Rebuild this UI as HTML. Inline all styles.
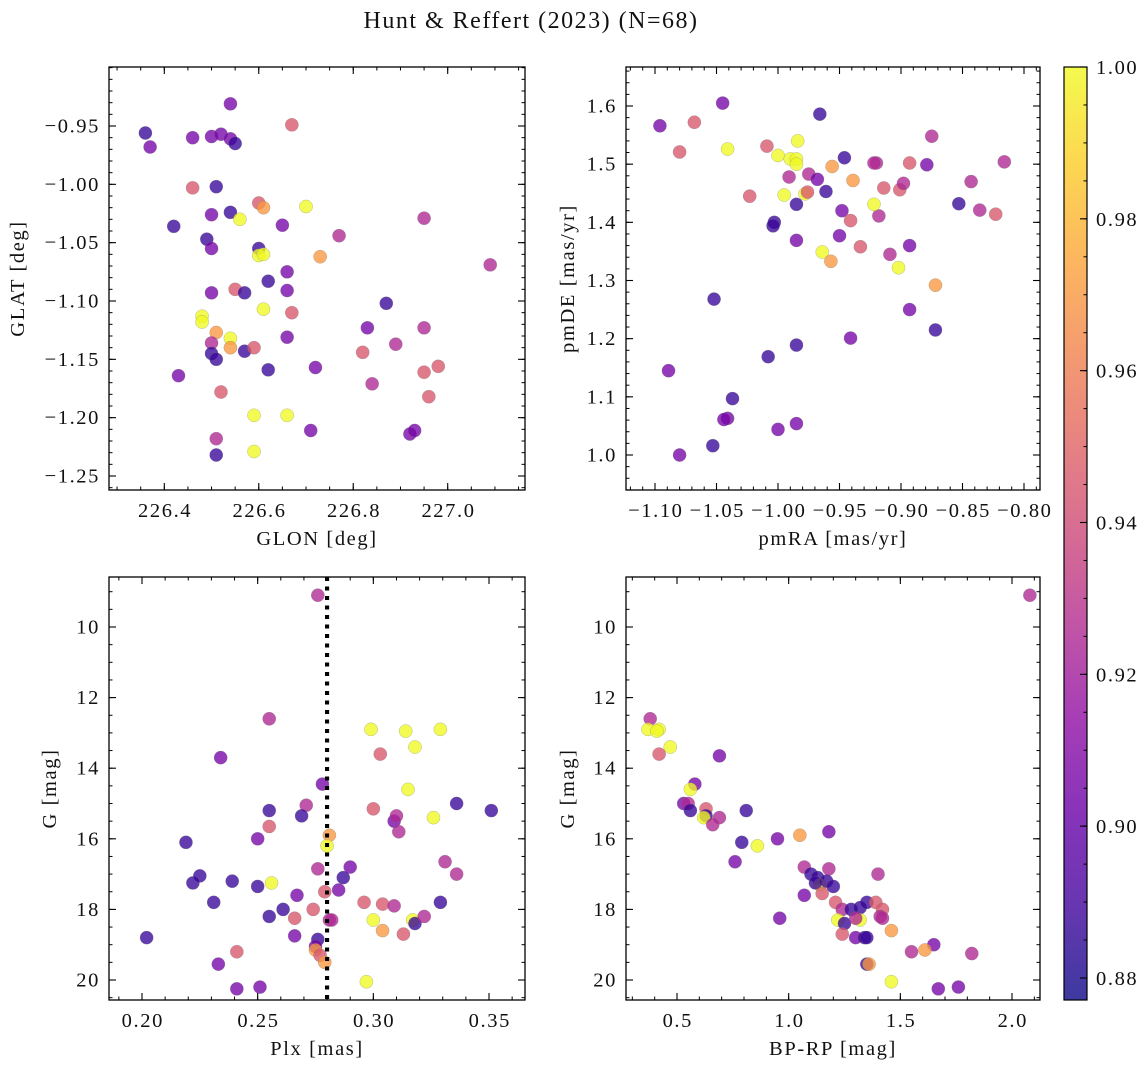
<!DOCTYPE html>
<html><head><meta charset="utf-8">
<style>
html,body{margin:0;padding:0;background:#fff;}
svg{display:block;font-family:"Liberation Serif","DejaVu Serif",serif;}
</style></head>
<body>
<svg id="fig" width="1148" height="1067" viewBox="0 0 1148 1067" xmlns="http://www.w3.org/2000/svg">
<defs>
<linearGradient id="plasma" x1="0" y1="1" x2="0" y2="0">
<stop offset="0" stop-color="#0d0887"/><stop offset="0.1" stop-color="#41049d"/><stop offset="0.2" stop-color="#6a00a8"/><stop offset="0.3" stop-color="#8f0da4"/><stop offset="0.4" stop-color="#b12a90"/><stop offset="0.5" stop-color="#cc4778"/><stop offset="0.6" stop-color="#e16462"/><stop offset="0.7" stop-color="#f2844b"/><stop offset="0.8" stop-color="#fca636"/><stop offset="0.9" stop-color="#fcce25"/><stop offset="1" stop-color="#f0f921"/>
</linearGradient>
</defs>
<text x="531" y="28" font-size="24" letter-spacing="1.5" text-anchor="middle" fill="#111">Hunt &amp; Reffert (2023) (N=68)</text>
</svg>
<script>
// probability codes: b,v,p,s,o,y
const probCodes = {b:0.887, v:0.905, p:0.925, s:0.945, o:0.97, y:1.0};
// Panel 1: GLON / GLAT
const tlGlon = [226.36,226.37,226.46,226.50,226.52,226.54,226.55,226.54,226.67,226.46,226.51,226.42,226.49,226.50,226.50,226.54,226.56,226.60,226.61,226.70,226.65,226.60,226.60,226.61,226.73,226.77,226.95,227.09,226.66,226.62,226.50,226.55,226.57,226.66,226.61,226.67,226.48,226.48,226.51,226.54,226.54,226.50,226.50,226.51,226.57,226.59,226.66,226.62,226.72,226.87,226.83,226.82,226.89,226.95,226.84,226.95,226.98,226.96,226.43,226.52,226.59,226.66,226.71,226.92,226.93,226.51,226.51,226.59];
const tlGlat = [-0.956,-0.968,-0.960,-0.959,-0.957,-0.961,-0.965,-0.931,-0.949,-1.003,-1.002,-1.036,-1.047,-1.026,-1.055,-1.024,-1.030,-1.016,-1.020,-1.019,-1.035,-1.055,-1.061,-1.060,-1.062,-1.044,-1.029,-1.069,-1.075,-1.083,-1.093,-1.090,-1.093,-1.091,-1.107,-1.110,-1.113,-1.118,-1.127,-1.132,-1.140,-1.136,-1.145,-1.150,-1.143,-1.140,-1.131,-1.159,-1.157,-1.102,-1.123,-1.144,-1.137,-1.123,-1.171,-1.161,-1.156,-1.182,-1.164,-1.178,-1.198,-1.198,-1.211,-1.214,-1.211,-1.218,-1.232,-1.229];
const tlProb = "bvvvvvbvss"+"bbbvvbysoy"+"vbyyopppvb"+"vsbvysyyoy"+"opbbbsvbvb"+"vspppsssv"+"syyvvvpby";
// Panel 2: pmRA / pmDE
const trPmra = [-1.096,-1.068,-1.045,-1.080,-1.041,-0.966,-1.009,-0.984,-1.000,-0.990,-0.985,-0.985,-0.978,-0.946,-0.956,-0.975,-0.968,-0.961,-0.939,-0.920,-0.922,-0.893,-0.879,-0.875,-0.816,-0.991,-1.023,-0.995,-0.976,-0.914,-0.918,-0.901,-0.898,-0.853,-0.843,-0.836,-0.823,-0.985,-0.948,-0.922,-0.941,-1.003,-1.004,-0.985,-0.950,-0.933,-0.964,-0.957,-0.909,-0.893,-0.902,-0.872,-0.893,-0.872,-0.941,-0.985,-1.052,-1.008,-1.089,-1.037,-1.041,-1.044,-1.000,-0.985,-1.053,-1.080];
const trPmde = [1.566,1.572,1.605,1.521,1.526,1.586,1.531,1.540,1.515,1.509,1.509,1.500,1.449,1.511,1.496,1.483,1.474,1.453,1.472,1.502,1.502,1.502,1.499,1.548,1.504,1.478,1.445,1.447,1.452,1.459,1.411,1.456,1.467,1.432,1.470,1.421,1.414,1.431,1.420,1.431,1.403,1.400,1.394,1.369,1.377,1.358,1.349,1.333,1.345,1.360,1.322,1.292,1.250,1.215,1.201,1.189,1.268,1.169,1.145,1.097,1.063,1.061,1.044,1.054,1.016,1.000];
const trProb = "vsvsybsyyy"+"yyybopvbop"+"psvpppsyss"+"pspbppsbvy"+"sbbvvsyopv"+"yovbvbbbvb"+"vvvvbv";
// Panel 3: Plx / G
const blPlx = [0.276,0.255,0.234,0.299,0.314,0.329,0.318,0.303,0.315,0.278,0.255,0.271,0.255,0.269,0.300,0.309,0.310,0.311,0.326,0.336,0.351,0.219,0.250,0.281,0.280,0.276,0.290,0.287,0.331,0.336,0.222,0.225,0.239,0.250,0.256,0.267,0.285,0.279,0.296,0.231,0.261,0.255,0.274,0.266,0.304,0.309,0.329,0.300,0.317,0.318,0.322,0.304,0.313,0.281,0.282,0.202,0.266,0.276,0.275,0.275,0.277,0.279,0.241,0.233,0.297,0.241,0.251];
const blG = [9.1,12.6,13.7,12.9,12.95,12.9,13.4,13.6,14.6,14.45,15.2,15.05,15.65,15.35,15.15,15.5,15.35,15.8,15.4,15.0,15.2,16.1,16.0,15.9,16.2,16.85,16.8,17.1,16.65,17.0,17.25,17.05,17.2,17.35,17.25,17.6,17.45,17.5,17.8,17.8,18.0,18.2,18.0,18.25,17.85,17.9,17.8,18.3,18.3,18.4,18.2,18.6,18.7,18.3,18.3,18.8,18.75,18.85,19.05,19.15,19.3,19.5,19.2,19.55,20.05,20.25,20.2];
const blProb = "ppvyyyysyv"+"bpsbsvppyb"+"bbvoypvbpp"+"bbbbyvvssb"+"bbsssp"+"byyb"+"posppbvbvo"+"sosvyvv";
// Panel 4: BP-RP / G
const brColor = [2.08,0.38,0.37,0.42,0.41,0.47,0.42,0.69,0.58,0.56,0.53,0.55,0.56,0.63,0.63,0.62,0.69,0.66,0.81,0.79,0.86,0.95,0.76,1.05,1.18,1.07,1.10,1.13,1.18,1.40,1.14,1.17,1.12,1.07,1.15,1.20,1.21,1.24,1.28,1.32,1.35,1.39,1.42,1.41,1.22,1.25,1.32,1.30,1.42,0.96,1.46,1.24,1.30,1.34,1.35,1.65,1.55,1.61,1.82,1.35,1.36,1.46,1.67,1.76];
const brG = [9.1,12.6,12.9,12.9,12.95,13.4,13.6,13.65,14.45,14.6,15.0,15.0,15.2,15.15,15.35,15.4,15.4,15.6,15.2,16.1,16.2,16.0,16.65,15.9,15.8,16.8,17.0,17.1,16.85,17.0,17.3,17.2,17.25,17.6,17.55,17.35,17.8,18.0,18.0,17.95,17.8,17.8,18.0,18.2,18.3,18.4,18.3,18.25,18.25,18.25,18.6,18.7,18.8,18.8,18.8,19.0,19.2,19.15,19.25,19.55,19.55,20.05,20.25,20.2];
const brProb = "ppyyyysvvy"+"vpbsbyppbb"+"yvvovpbbpp"+"ybbvsbspbb"+"bsspybyppv"+"osvbbvpopb"+"oyvv";
// ticks
const tlXTicks = [226.4,226.6,226.8,227.0];
const tlYTicks = [-0.95,-1.00,-1.05,-1.10,-1.15,-1.20,-1.25];
const trXTicks = [-1.10,-1.05,-1.00,-0.95,-0.90,-0.85,-0.80];
const trYTicks = [1.0,1.1,1.2,1.3,1.4,1.5,1.6];
const blXTicks = [0.20,0.25,0.30,0.35];
const gTicks = [10,12,14,16,18,20];
const brXTicks = [0.5,1.0,1.5,2.0];
const cbTicks = [0.88,0.90,0.92,0.94,0.96,0.98,1.00];
const plxCut = 0.28;

const NS="http://www.w3.org/2000/svg";
const svg=document.getElementById('fig');
const FS=20.5, LS=1.6;
function mk(tag,attrs,parent){const e=document.createElementNS(NS,tag);for(const k in attrs)e.setAttribute(k,attrs[k]);(parent||svg).appendChild(e);return e;}
const stops=["#0d0887","#41049d","#6a00a8","#8f0da4","#b12a90","#cc4778","#e16462","#f2844b","#fca636","#fcce25","#f0f921"];
function hex(h){return [parseInt(h.slice(1,3),16),parseInt(h.slice(3,5),16),parseInt(h.slice(5,7),16)];}
const VMIN=0.877,VMAX=1.0;
function cmap(v){let t=(v-VMIN)/(VMAX-VMIN);t=Math.max(0,Math.min(1,t));const f=t*10,i=Math.min(9,Math.floor(f)),r=f-i;const a=hex(stops[i]),b=hex(stops[i+1]);return `rgb(${a.map((c,k)=>Math.round(c+(b[k]-c)*r)).join(',')})`;}
function lin(d0,d1,p0,p1){return v=>p0+(v-d0)*(p1-p0)/(d1-d0);}

function panel(cfg){
  const g=mk('g',{});
  
  
  const {L,T,R,B}=cfg;
  const X=lin(cfg.xd[0],cfg.xd[1],cfg.xp[0],cfg.xp[1]);
  const Y=lin(cfg.yd[0],cfg.yd[1],cfg.yp[0],cfg.yp[1]);
  const inv=(p,d0,d1,p0,p1)=>d0+(p-p0)*(d1-d0)/(p1-p0);
  const xlo=inv(L,cfg.xd[0],cfg.xd[1],cfg.xp[0],cfg.xp[1]),xhi=inv(R,cfg.xd[0],cfg.xd[1],cfg.xp[0],cfg.xp[1]);
  const ya=inv(T,cfg.yd[0],cfg.yd[1],cfg.yp[0],cfg.yp[1]),yb=inv(B,cfg.yd[0],cfg.yd[1],cfg.yp[0],cfg.yp[1]);
  const ylo=Math.min(ya,yb),yhi=Math.max(ya,yb);
  if(cfg.vline!==undefined){const l=mk('line',{x1:X(cfg.vline),x2:X(cfg.vline),y1:T,y2:B,stroke:'#000','stroke-width':4,'stroke-dasharray':'4 5.5'},g);
    
    }
  for(let i=0;i<cfg.xs.length;i++){
    const c=mk('circle',{cx:X(cfg.xs[i]),cy:Y(cfg.ys[i]),r:6.6,fill:cmap(probCodes[cfg.pr[i]]||0.9),'fill-opacity':0.78,stroke:'#777','stroke-opacity':0.6,'stroke-width':0.4},g);
    
    
  }
  if(cfg.vline!==undefined){const l2=mk('line',{x1:X(cfg.vline),x2:X(cfg.vline),y1:T,y2:B,stroke:'#000','stroke-width':4,'stroke-dasharray':'4 5.5'},g);
    
    }
  const eps=1e-9;
  for(let v=Math.ceil(xlo/cfg.xmin-eps)*cfg.xmin;v<=xhi+eps;v+=cfg.xmin){const x=X(v);mk('line',{x1:x,x2:x,y1:B,y2:B-3.5,stroke:'#000','stroke-width':1},g);mk('line',{x1:x,x2:x,y1:T,y2:T+3.5,stroke:'#000','stroke-width':1},g);}
  for(let v=Math.ceil(ylo/cfg.ymin-eps)*cfg.ymin;v<=yhi+eps;v+=cfg.ymin){const y=Y(v);mk('line',{x1:L,x2:L+3.5,y1:y,y2:y,stroke:'#000','stroke-width':1},g);mk('line',{x1:R,x2:R-3.5,y1:y,y2:y,stroke:'#000','stroke-width':1},g);}
  cfg.xt.forEach(v=>{const x=X(v);mk('line',{x1:x,x2:x,y1:B,y2:B-7,stroke:'#000','stroke-width':1.1},g);mk('line',{x1:x,x2:x,y1:T,y2:T+7,stroke:'#000','stroke-width':1.1},g);
    const t=mk('text',{x:x+LS/2,y:B+27,'font-size':FS,'letter-spacing':LS,'text-anchor':'middle',fill:'#111'},g);t.textContent=cfg.xf(v);
    
    });
  cfg.yt.forEach(v=>{const y=Y(v);mk('line',{x1:L,x2:L+7,y1:y,y2:y,stroke:'#000','stroke-width':1.1},g);mk('line',{x1:R,x2:R-7,y1:y,y2:y,stroke:'#000','stroke-width':1.1},g);
    const t=mk('text',{x:L-9,y:y+6.5,'font-size':FS,'letter-spacing':LS,'text-anchor':'end',fill:'#111'},g);t.textContent=cfg.yf(v);
    
    });
  const fr=mk('rect',{x:L,y:T,width:R-L,height:B-T,fill:'none',stroke:'#000','stroke-width':1.3},g);
  
  
  const xl=mk('text',{x:(L+R)/2,y:B+55,'font-size':FS,'letter-spacing':LS,'text-anchor':'middle',fill:'#111'},g);xl.textContent=cfg.xlabel;
  
  
  const yx=cfg.ylx,yy=(T+B)/2;
  const yl=mk('text',{x:yx,y:yy,'font-size':FS,'letter-spacing':LS,'text-anchor':'middle',fill:'#111',transform:`rotate(-90 ${yx} ${yy})`},g);yl.textContent=cfg.ylabel;
  
  
}
const mfmt=(d)=>v=>(v<0?'\u2212':'')+Math.abs(v).toFixed(d);
panel({name:'glon-glat-panel',L:109,T:67,R:525,B:490,xd:[226.4,227.0],xp:[164.3,447.7],yd:[-0.95,-1.25],yp:[126,476],xs:tlGlon,ys:tlGlat,pr:tlProb,xt:tlXTicks,yt:tlYTicks,xmin:0.05,ymin:0.01,xf:v=>v.toFixed(1),yf:mfmt(2),xlabel:'GLON [deg]',ylabel:'GLAT [deg]',ylx:24});
panel({name:'pm-panel',L:626,T:67,R:1040,B:490,xd:[-1.10,-0.80],xp:[655,1024],yd:[1.6,1.0],yp:[106,455],xs:trPmra,ys:trPmde,pr:trProb,xt:trXTicks,yt:trYTicks,xmin:0.01,ymin:0.02,xf:mfmt(2),yf:v=>v.toFixed(1),xlabel:'pmRA [mas/yr]',ylabel:'pmDE [mas/yr]',ylx:574});
panel({name:'plx-g-panel',L:109,T:577,R:525,B:1000,xd:[0.20,0.35],xp:[142,489],yd:[10,20],yp:[627,980],xs:blPlx,ys:blG,pr:blProb,xt:blXTicks,yt:gTicks,xmin:0.01,ymin:0.5,xf:v=>v.toFixed(2),yf:v=>String(v),xlabel:'Plx [mas]',ylabel:'G [mag]',ylx:56,vline:plxCut});
panel({name:'cmd-panel',L:626,T:577,R:1040,B:1000,xd:[0.5,2.0],xp:[677,1012],yd:[10,20],yp:[627,980],xs:brColor,ys:brG,pr:brProb,xt:brXTicks,yt:gTicks,xmin:0.1,ymin:0.5,xf:v=>v.toFixed(1),yf:v=>String(v),xlabel:'BP-RP [mag]',ylabel:'G [mag]',ylx:574});
// colorbar
const cb=mk('g',{});


const CT=67,CB=1000,CL=1064,CR=1087;
const CY=lin(0.88,1.00,978,67);
const cgr=mk('rect',{x:CL,y:CT,width:CR-CL,height:CB-CT,fill:'url(#plasma)','fill-opacity':0.8},cb);


mk('rect',{x:CL,y:CT,width:CR-CL,height:CB-CT,fill:'none',stroke:'#000','stroke-width':1.2},cb);
for(let v=0.88;v<=1.0001;v+=0.005){const y=CY(v);mk('line',{x1:CR,x2:CR-3.5,y1:y,y2:y,stroke:'#000','stroke-width':1},cb);}
cbTicks.forEach(v=>{const y=CY(v);mk('line',{x1:CR,x2:CR-7,y1:y,y2:y,stroke:'#000','stroke-width':1.1},cb);
  const t=mk('text',{x:1096,y:y+7,'font-size':FS,'letter-spacing':LS,fill:'#111'},cb);t.textContent=v.toFixed(2);
  
  });
</script>
</body></html>
